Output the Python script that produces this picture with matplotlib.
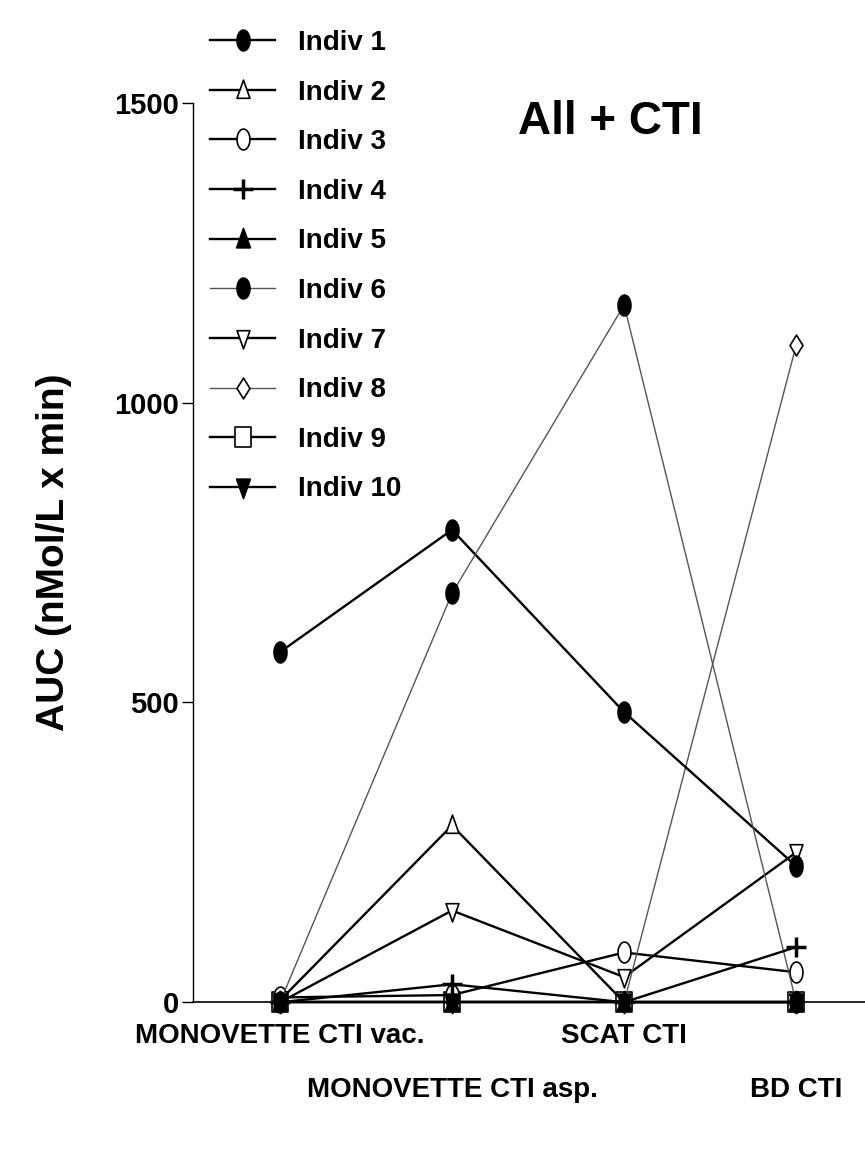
import matplotlib
matplotlib.use("Agg")
import matplotlib.pyplot as plt
import numpy as np
from matplotlib.path import Path

plt.rcParams["font.family"] = ["Liberation Sans", "DejaVu Sans"]
plt.rcParams["font.weight"] = "bold"

categories = ["MONOVETTE CTI vac.", "MONOVETTE CTI asp.", "SCAT CTI", "BD CTI"]
labels = ["Indiv 1", "Indiv 2", "Indiv 3", "Indiv 4", "Indiv 5",
          "Indiv 6", "Indiv 7", "Indiv 8", "Indiv 9", "Indiv 10"]

indiv1 = [584, 788, 484, 227]
indiv2 = [3, 295, 0, 0]
indiv3 = [8, 12, 83, 50]
indiv4 = [0, 30, 0, 92]
indiv5 = [0, 0, 0, 0]
indiv6 = [0, 682, 1163, 0]
indiv7 = [0, 153, 42, 250]
indiv8 = [0, 0, 0, 1096]
indiv9 = [0, 0, 0, 0]
indiv10 = [0, 0, 0, 0]
series = [indiv1, indiv2, indiv3, indiv4, indiv5,
          indiv6, indiv7, indiv8, indiv9, indiv10]

yticks = [0, 500, 1000, 1500]

# markers in the scan are stretched vertically
_SX = 0.62


def _ellipse():
    t = np.linspace(0, 2 * np.pi, 40)
    return Path(np.column_stack([_SX * np.cos(t), np.sin(t)]), closed=True)


def _poly(pts):
    pts = [(x * _SX, y) for x, y in pts]
    return Path(pts + [pts[0]], closed=True)


_circ = _ellipse()
_tri_up = _poly([(-1, -0.75), (1, -0.75), (0, 1)])
_tri_dn = _poly([(-1, 0.75), (1, 0.75), (0, -1)])
_diam = _poly([(0, 1), (1, 0), (0, -1), (-1, 0)])
_sq = _poly([(-1, -0.8), (1, -0.8), (1, 0.8), (-1, 0.8)])

# marker, filled, size, line colour, line width, zorder
styles = [
    (_circ, True, 15, "black", 1.7, 2.2),
    (_tri_up, False, 15, "black", 1.7, 2.1),
    (_circ, False, 15, "black", 1.7, 2.1),
    ("+", True, 14, "black", 1.7, 2.3),
    (_tri_up, True, 16, "black", 1.7, 2.2),
    (_circ, True, 15, "#555555", 1.0, 2.2),
    (_tri_dn, False, 15, "black", 1.7, 2.1),
    (_diam, False, 15, "#555555", 1.0, 2.1),
    (_sq, False, 15, "black", 1.7, 2.0),
    (_tri_dn, True, 16, "black", 1.7, 2.2),
]

fig = plt.figure(figsize=(8.65, 11.52), dpi=100)
ax = fig.add_axes([0.223, 0.130, 0.777, 0.7806])

x = np.arange(1, len(categories) + 1)
handles = []
for vals, lab, (mk, filled, ms, lc, lw, z) in zip(series, labels, styles):
    h, = ax.plot(x, vals, color=lc, linewidth=lw, marker=mk, markersize=ms,
                 markerfacecolor="black" if filled else "white",
                 markeredgecolor="black",
                 markeredgewidth=2.5 if mk == "+" else 1.2,
                 clip_on=False, label=lab, zorder=z)
    handles.append(h)

ax.set_xlim(0.494, 4.4)
ax.set_ylim(0, 1500)
ax.set_yticks(yticks)
ax.set_yticklabels([str(v) for v in yticks], fontsize=21, fontweight="bold")
ax.tick_params(axis="y", direction="out", length=8, width=1, pad=2)
ax.set_xticks(x)
ax.set_xticklabels(categories, fontsize=20, fontweight="bold")
ax.tick_params(axis="x", length=0)
pads = [15, 54, 15, 54]
for tick, p in zip(ax.xaxis.get_major_ticks(), pads):
    tick.set_pad(p)

for side in ("top", "right"):
    ax.spines[side].set_visible(False)
ax.spines["left"].set_linewidth(1.0)
ax.spines["bottom"].set_linewidth(1.2)

ax.set_ylabel("AUC (nMol/L x min)", fontsize=28, fontweight="bold", labelpad=30)

fig.text(0.705, 0.894, "All + CTI", fontsize=33, fontweight="bold",
         ha="center", va="center")

fig.legend(handles=handles, loc="upper left",
           bbox_to_anchor=(0.243, 0.974), frameon=False, fontsize=20,
           handlelength=2.35, handletextpad=0.8, labelspacing=0.85,
           borderaxespad=0, borderpad=0)

fig.savefig("out.png", dpi=100)
